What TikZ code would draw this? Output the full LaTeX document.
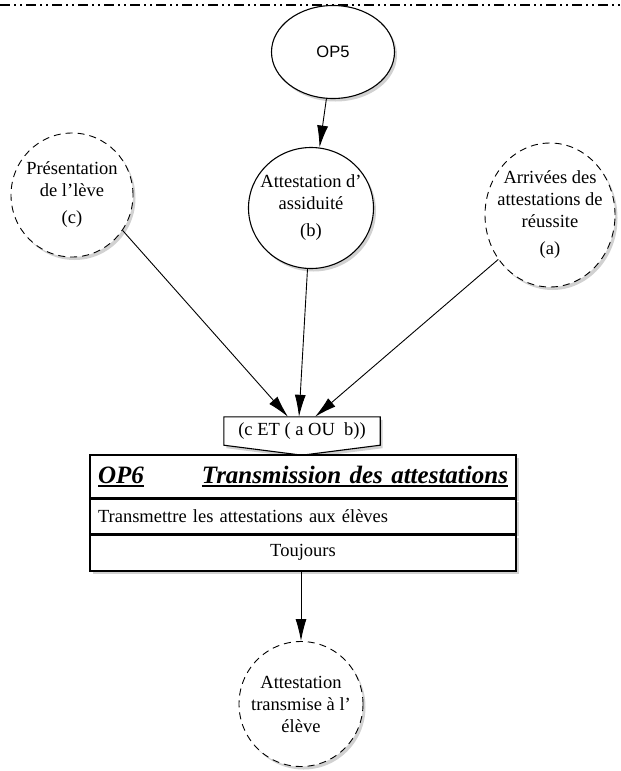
\documentclass[tikz,border=0pt]{standalone}
\usepackage{fontspec}
\setmainfont{Liberation Serif}
\setsansfont{Liberation Sans}
\usetikzlibrary{arrows.meta,shapes.geometric,shadows,positioning,backgrounds}
\newsavebox{\ulbox}
\newcommand{\thickul}[1]{\sbox{\ulbox}{#1}\rlap{\rule[-4pt]{\wd\ulbox}{1.8pt}}\usebox{\ulbox}}

\begin{document}
\begin{tikzpicture}[
  x=1pt, y=-1pt,
  shade/.style={drop shadow={shadow xshift=2.5pt, shadow yshift=-3pt, fill=gray!60, opacity=0.6}},
  proc/.style={draw, ellipse, fill=white, line width=1.1pt, inner sep=0pt, shade},
  evt/.style={proc, dash pattern=on 7pt off 5pt, line width=0.9pt},
  lbl/.style={align=center, inner sep=0pt, font=\fontsize{18.5}{22}\selectfont},
  row/.style={draw, fill=white, line width=1.4pt, minimum width=426pt, inner sep=0pt, font=\fontsize{18.5}{22}\selectfont, shade},
  flow/.style={-{Latex[length=22pt, width=11pt]}, line width=0.9pt}
]
  \useasboundingbox (0,0) rectangle (621,771);
  \draw[line width=1.6pt, dash pattern=on 10pt off 4pt on 2pt off 4pt on 2pt off 4pt] (0,5) -- (621,5);

  \node[proc, minimum width=123pt, minimum height=93pt, font=\sffamily\fontsize{16.5}{20}\selectfont] (op5) at (333,52) {OP5};
  \node[proc, minimum width=125pt, minimum height=121pt, label={[lbl]center:{Attestation d'\\assiduité\\[5pt](b)}}] (b) at (311,208) {};
  \node[evt, minimum width=122pt, minimum height=124pt, label={[lbl]center:{Présentation\\de l'lève\\[5pt](c)}}] (c) at (72,195) {};
  \node[evt, minimum width=130pt, minimum height=144pt, label={[lbl]center:{Arrivées des\\attestations de\\réussite\\[5pt](a)}}] (a) at (550,215) {};

  \node[lbl, minimum width=156pt, minimum height=28pt] (cond) at (302,431) {(c ET ( a OU\ \ b))};
  \begin{scope}[on background layer]
    \draw[fill=white, line width=1.1pt, shade] (cond.north west) -- (cond.north east) -- (cond.south east) -- ([yshift=-10pt]cond.south) -- (cond.south west) -- cycle;
  \end{scope}

  \node[row, minimum height=43pt, text width=410pt, font=\bfseries\itshape\fontsize{25}{30}\selectfont] (op6) at (303,476.5) {\thickul{OP6}\hfill\thickul{Transmission des attestations}};
  \node[row, minimum height=34pt, text width=410pt, align=left, below=0pt of op6] (task) {Transmettre les attestations aux élèves};
  \node[row, minimum height=36pt, below=0pt of task] (always) {Toujours};

  \node[evt, minimum width=124pt, minimum height=125pt, label={[lbl]center:{Attestation\\transmise à l'\\élève}}] (out) at (301,704) {};

  \draw[flow] (op5) -- (b);
  \draw[flow] (c.-35) -- ([xshift=-14pt]cond.north);
  \draw[flow] (b) -- ([xshift=-3pt]cond.north);
  \draw[flow] (a) -- ([xshift=13pt]cond.north);
  \draw[flow] (always.south -| out) -- (out);
\end{tikzpicture}
\end{document}
